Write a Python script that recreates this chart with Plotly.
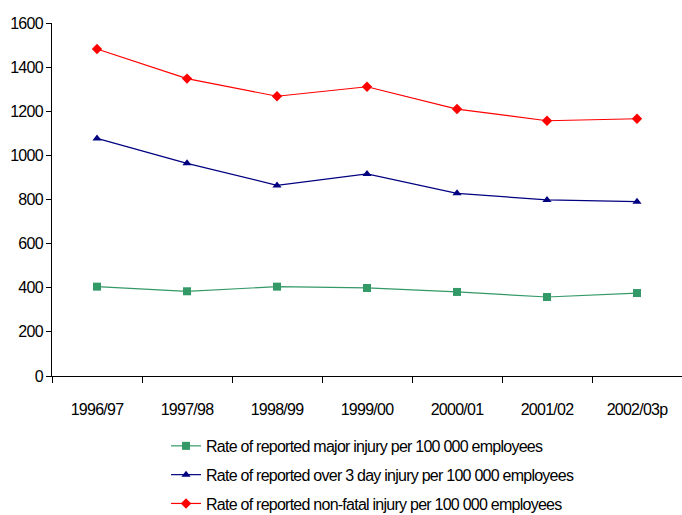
import plotly.graph_objects as go

years = ["1996/97", "1997/98", "1998/99", "1999/00", "2000/01", "2001/02", "2002/03p"]

major_injury = [405, 384, 405, 399, 381, 358, 376]
over_3_day = [1077, 964, 864, 916, 828, 798, 790]
non_fatal = [1482, 1348, 1268, 1311, 1210, 1157, 1166]

series = [
    ("Rate of reported major injury per 100 000 employees", major_injury, "#339966", "square"),
    ("Rate of reported over 3 day injury per 100 000 employees", over_3_day, "#000080", "triangle-up"),
    ("Rate of reported non-fatal injury per 100 000 employees", non_fatal, "#FF0000", "diamond"),
]

FONT = "Liberation Sans, Arial, sans-serif"

fig = go.Figure()
for i, (name, vals, color, symbol) in enumerate(series):
    fig.add_trace(go.Scatter(
        x=years, y=vals, name=name, mode="lines+markers",
        line=dict(color=color, width=1.2),
        marker=dict(symbol=symbol, size=8, color=color),
        legendgroup=f"g{i}",
    ))

fig.update_layout(
    width=682, height=515,
    margin=dict(l=52, r=0, t=23, b=139, autoexpand=False),
    paper_bgcolor="white", plot_bgcolor="white",
    font=dict(family=FONT, size=16, color="black"),
    showlegend=True,
    legend=dict(
        orientation="v", x=0.181, xanchor="left", y=-0.15, yanchor="top",
        font=dict(family=FONT, size=16, color="black"),
        tracegroupgap=5, bgcolor="rgba(0,0,0,0)",
    ),
)

fig.update_xaxes(
    type="category", range=[-0.5, 6.5],
    showline=True, linecolor="black", linewidth=1,
    ticks="outside", tickson="boundaries", ticklen=6, tickcolor="black",
    showgrid=False, zeroline=False, ticklabelstandoff=19,
)
fig.update_yaxes(
    range=[0, 1600], dtick=200,
    showline=True, linecolor="black", linewidth=1,
    ticks="outside", ticklen=5, tickcolor="black",
    showgrid=False, zeroline=False,
)

# Tighter tracking for all chart text
tight_text = """
var s = document.createElement('style');
s.textContent = '.main-svg text { letter-spacing: -0.75px; }';
document.head.appendChild(s);
"""

fig.write_html("out.html", post_script=tight_text)
